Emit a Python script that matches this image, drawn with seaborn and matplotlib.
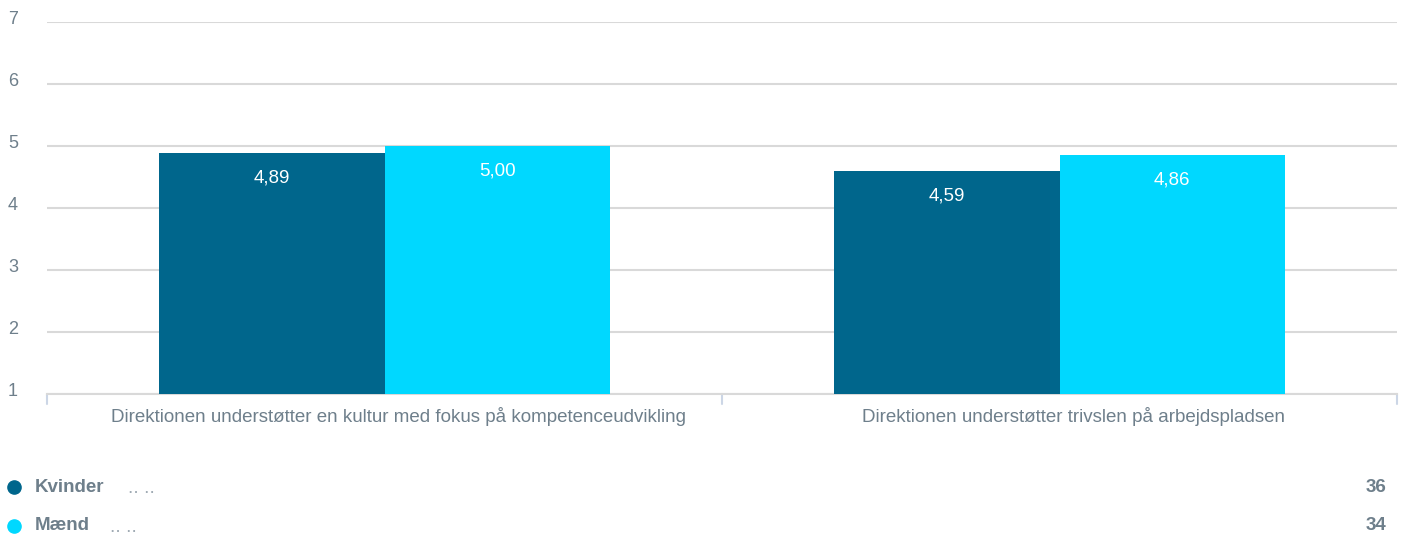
import matplotlib
matplotlib.use("Agg")
import matplotlib.pyplot as plt
import seaborn as sns
import pandas as pd
from matplotlib.lines import Line2D
from matplotlib.transforms import offset_copy

categories = [
    "Direktionen understøtter en kultur med fokus på kompetenceudvikling",
    "Direktionen understøtter trivslen på arbejdspladsen",
]
groups = ["Kvinder", "Mænd"]
kvinder = [4.89, 4.59]
maend = [5.00, 4.86]
counts = [36, 34]
yticks = [1, 2, 3, 4, 5, 6, 7]

colors = ["#00668c", "#00d8ff"]
text_gray = "#6e7f8b"

df = pd.DataFrame({
    "category": categories * 2,
    "group": [groups[0]] * len(categories) + [groups[1]] * len(categories),
    "value": kvinder + maend,
})

sns.set_theme(style="white")
plt.rcParams["font.family"] = ["Liberation Sans", "DejaVu Sans"]

fig = plt.figure(figsize=(14.04, 5.41), dpi=100)
ax = fig.add_axes([47 / 1404, 1 - 394 / 541, (1397 - 47) / 1404, (394 - 22) / 541])

sns.barplot(data=df, x="category", y="value", hue="group", order=categories,
            hue_order=groups, palette=colors, width=0.667, ax=ax,
            saturation=1, legend=False, errorbar=None, zorder=3)

for p in ax.patches:
    p.set_edgecolor("none")
    p.set_linewidth(0)

for cont in ax.containers:
    ax.bar_label(cont, fmt=lambda v: f"{v:.2f}".replace(".", ","), padding=-24,
                 color="white", fontsize=13.5)

ax.set_ylim(1, 7)
ax.set_yticks(yticks)
ax.set_yticklabels([str(t) for t in yticks])
ax.set_xlim(-0.5, len(categories) - 0.5)
ax.grid(axis="y", color="#d9d9d9", linewidth=1.5, zorder=0)
ax.set_axisbelow(True)
for s in ["top", "right", "left"]:
    ax.spines[s].set_visible(False)
ax.spines["bottom"].set_color("#d9d9d9")
ax.spines["bottom"].set_linewidth(1.5)
ax.set_xlabel("")
ax.set_ylabel("")

ax.tick_params(axis="y", length=0, pad=0, labelsize=13, labelcolor=text_gray)
ax.tick_params(axis="x", length=0, pad=9, labelsize=13.5, labelcolor=text_gray)
for lbl in ax.get_xticklabels():
    lbl.set_transform(offset_copy(lbl.get_transform(), fig=fig, x=10, y=0, units="points"))
for xb in [-0.5, 0.5, 1.5]:
    ax.plot([xb, xb], [0, -0.028], transform=ax.get_xaxis_transform(),
            color="#ccd6e6", linewidth=1.5, clip_on=False)
ytrans = offset_copy(ax.get_yaxis_transform(), fig=fig, x=0, y=3, units="points")
for lbl in ax.get_yticklabels():
    lbl.set_horizontalalignment("left")
    lbl.set_transform(ytrans)
    lbl.set_x(-39 / (1397 - 47))

# legend below
legend_y = [1 - 487 / 541, 1 - 526 / 541]
dots_x = [128 / 1404, 110 / 1404]
for i, g in enumerate(groups):
    fig.add_artist(Line2D([14 / 1404], [legend_y[i]], marker="o", markersize=9.5,
                          color=colors[i], linestyle="none", transform=fig.transFigure))
    fig.text(35 / 1404, legend_y[i], g, fontsize=13.5, fontweight="bold",
             color=text_gray, va="center", ha="left")
    fig.text(dots_x[i], legend_y[i] - 6 / 541, ".. ..", fontsize=14,
             color="#a0abb4", va="baseline", ha="left")
    fig.text(1386 / 1404, legend_y[i], str(counts[i]), fontsize=13.5,
             fontweight="bold", color=text_gray, va="center", ha="right")

fig.savefig("out.png", dpi=100, facecolor="white")
